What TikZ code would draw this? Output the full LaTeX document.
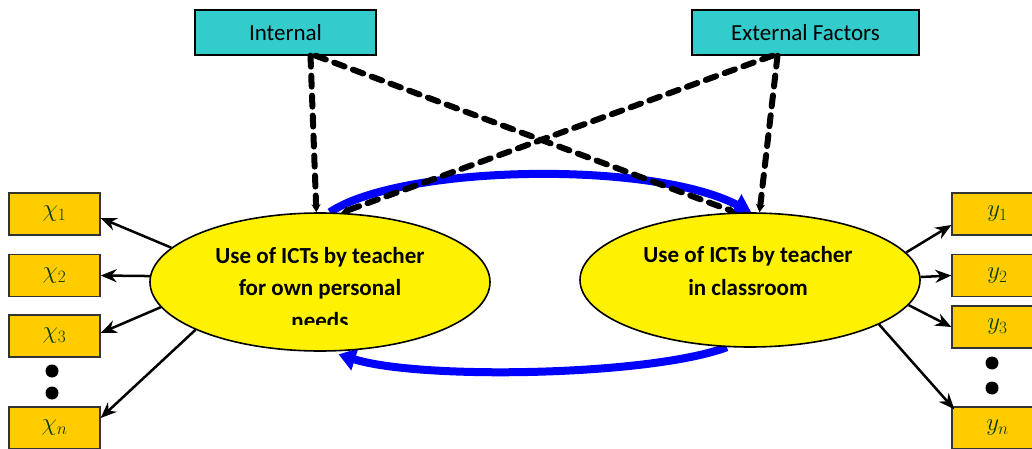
\documentclass[tikz,border=0pt]{standalone}
\usepackage{fontspec}
\setmainfont{Carlito}
\usetikzlibrary{shapes.geometric,arrows.meta,backgrounds}
\definecolor{teal}{RGB}{51,204,204}
\definecolor{gold}{RGB}{255,204,0}
\definecolor{dkgreen}{RGB}{10,60,10}
\tikzset{
  factor/.style={draw=black, line width=1.3pt, fill=teal, minimum width=#1, minimum height=45pt, inner sep=0pt, font=\fontsize{23}{27}\selectfont},
  usebox/.style={draw=black, line width=1.6pt, fill=yellow, ellipse, inner sep=0pt},
  varbox/.style={draw=black!80, line width=1.3pt, fill=gold, minimum width=91pt, minimum height=42pt, inner sep=0pt, text=dkgreen, font=\fontsize{26}{28}\selectfont},
  dotmark/.style={circle, fill=black, inner sep=0pt, minimum size=13pt},
  outarrow/.style={-{Stealth[length=16pt,width=13pt]}, line width=2.5pt},
  influence/.style={line width=6pt, dash pattern=on 11pt off 9pt, line cap=round, -{Stealth[length=8pt,width=9pt]}},
  cycle/.style={line width=8pt, draw=blue, -{Triangle[length=17pt,width=22pt]}},
  ellipsetext/.style={align=center, font=\fontsize{23}{32.5}\selectfont\bfseries}
}
\begin{document}
\begin{tikzpicture}[x=1pt,y=-1pt]
\useasboundingbox (0,0) rectangle (1032,449);
\clip (0,0) rectangle (1032,449);
% top factor boxes
\node[factor=181pt] (int) at (285.5,32.5) {Internal};
\node[factor=227pt] (ext) at (805.5,32.5) {External Factors};
% ellipses
\node[usebox, minimum width=340pt, minimum height=138pt] (L) at (320,282) {};
\node[usebox, minimum width=340pt, minimum height=134pt] (R) at (750,280) {};
\begin{scope}
\clip (0,0) rectangle (1032,324);
\node[ellipsetext] (Ltext) at (320,288) {Use of ICTs by teacher\\for own personal\\needs};
\end{scope}
\node[ellipsetext] (Rtext) at (748,271) {Use of ICTs by teacher\\in classroom};
% blue cycle arrows (behind ellipses)
\begin{scope}[on background layer]
\draw[cycle] (L.82) .. controls (400,165) and (650,160) .. (R.89);
\draw[cycle] (R.251) .. controls (650,376) and (420,380) .. ([yshift=-3pt]L.285);
\end{scope}
% dashed influence lines
\coordinate (intA) at ([xshift=25pt]int.south);
\coordinate (intB) at ([xshift=30pt]int.south);
\coordinate (extA) at ([xshift=-28pt]ext.south);
\coordinate (extB) at ([xshift=-33pt]ext.south);
\draw[influence] (intA) -- (L.93);
\draw[influence] (intB) -- (R.102);
\draw[influence] (extA) -- (R.82);
\draw[influence] (extB) -- (L.73);
% left variable boxes
\node[varbox] (x1) at (54.5,214) {$\chi_1$};
\node[varbox] (x2) at (54.5,275.5) {$\chi_2$};
\node[varbox] (x3) at (54.5,336) {$\chi_3$};
\node[varbox] (xn) at (54.5,428) {$\chi_n$};
\node[dotmark] (xd1) at (52,371) {};
\node[dotmark] (xd2) at (52,393) {};
% right variable boxes
\node[varbox] (y1) at (997.5,214) {$y_1$};
\node[varbox] (y2) at (997.5,275.5) {$y_2$};
\node[varbox] (y3) at (997.5,327) {$y_3$};
\node[varbox] (yn) at (997.5,428) {$y_n$};
\node[dotmark] (yd1) at (992,363) {};
\node[dotmark] (yd2) at (992,388) {};
% output arrows
\draw[outarrow] (L.167) -- ([yshift=-4pt]x1.east);
\draw[outarrow] (L.178) -- (x2.east);
\draw[outarrow] (L.189) -- ([yshift=3pt]x3.east);
\draw[outarrow] (L.201) -- ([yshift=10pt]xn.east);
\draw[outarrow] (R.10) -- ([yshift=-11pt]y1.west);
\draw[outarrow] (R.1) -- (y2.west);
\draw[outarrow] (R.-9) -- (y3.west);
\draw[outarrow] (R.-19) -- ([xshift=3pt,yshift=-3pt]yn.north west);
\end{tikzpicture}
\end{document}
